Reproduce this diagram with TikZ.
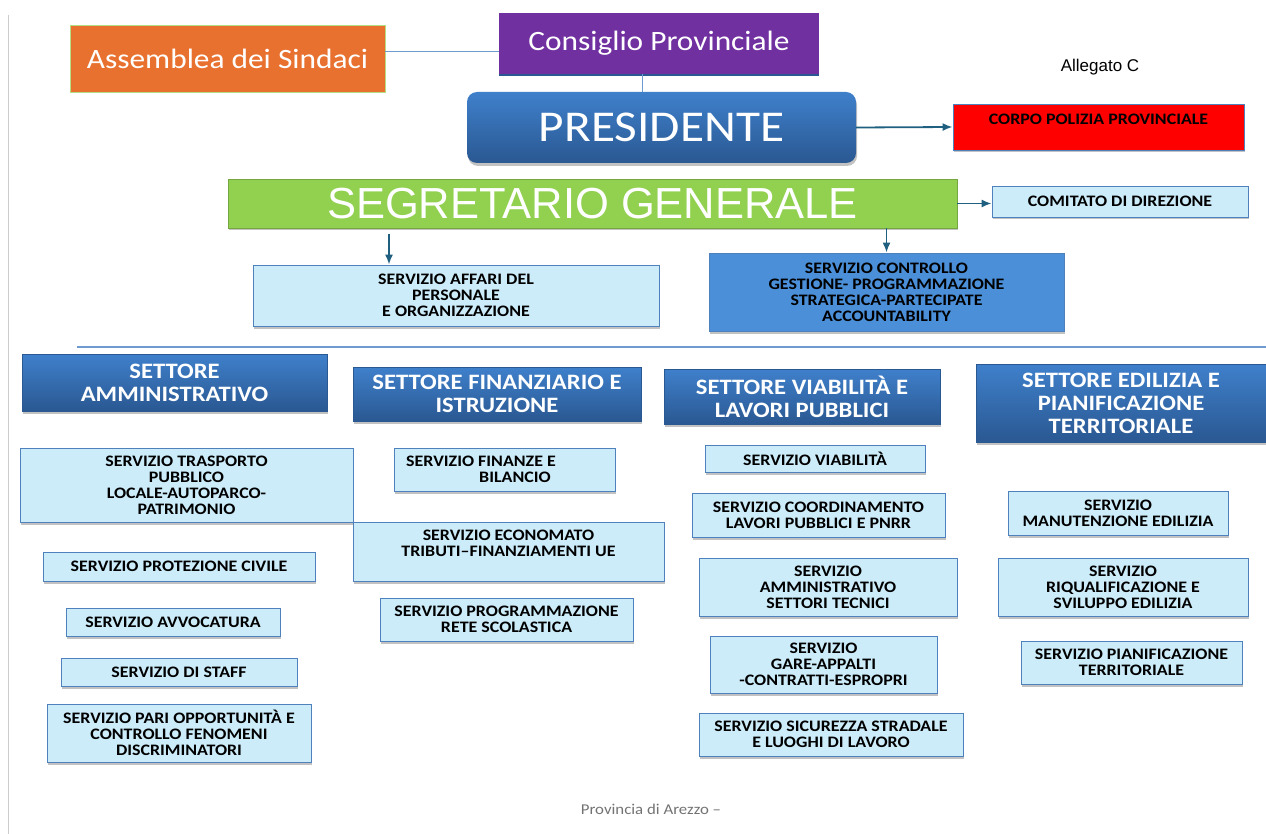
\documentclass[tikz,border=0pt]{standalone}
\usepackage{fontspec}
\setmainfont[FakeStretch=1.12]{Carlito}
\newfontfamily\arialfont{Liberation Sans}
\usepackage{tikz}
\usetikzlibrary{arrows.meta,shadows,positioning}
\definecolor{arancio}{HTML}{E8712F}
\definecolor{viola}{HTML}{7030A0}
\definecolor{verde}{HTML}{92D050}
\definecolor{servfill}{HTML}{CCECFA}
\definecolor{servline}{HTML}{4F81BD}
\definecolor{ctrlfill}{HTML}{4A8FD8}
\definecolor{hdrtop}{HTML}{3F80CB}
\definecolor{hdrbot}{HTML}{2A5892}
\definecolor{freccol}{HTML}{1F6080}
\definecolor{lineacol}{HTML}{6D9BCF}
\newcommand{\servfont}{\bfseries\fontsize{16}{16}\selectfont}
\newcommand{\settfont}{\bfseries\fontsize{22}{23}\selectfont}
\tikzstyle{serv}=[rectangle, draw=servline, fill=servfill, line width=0.8pt, inner sep=0pt, align=center, font=\servfont, drop shadow={shadow xshift=1pt, shadow yshift=-2.5pt, fill=black!40, opacity=.6}]
\tikzstyle{settore}=[rectangle, top color=hdrtop, bottom color=hdrbot, draw=hdrbot, inner sep=0pt, align=center, text=white, font=\settfont, drop shadow={shadow xshift=1pt, shadow yshift=-2.5pt, fill=black!40, opacity=.6}]
\tikzstyle{freccia}=[-{Latex[length=10pt,width=8pt]}, draw=freccol, line width=1.8pt]
\tikzstyle{linea}=[draw=lineacol, line width=1pt]

\begin{document}
\begin{tikzpicture}[x=1pt,y=-1pt]
	\useasboundingbox (0,0) rectangle (1266,834);
	\draw[black!20, line width=1pt] (8,15) -- (8,834);

	% vertice
	\node[rectangle, fill=arancio, draw=verde!70!white, line width=0.8pt, minimum width=315, minimum height=67, text=white, font=\fontsize{28}{30}\selectfont](assemblea) at (227.5,58.5) {Assemblea dei Sindaci};
	\node[rectangle, fill=viola, minimum width=320, minimum height=61, text=white, font=\fontsize{28}{30}\selectfont, drop shadow={shadow xshift=0pt, shadow yshift=-2.5pt, fill=hdrbot, opacity=1}](consiglio) at (659,43.5) {Consiglio Provinciale};
	\node[rectangle, rounded corners=10pt, top color=hdrtop, bottom color=hdrbot, minimum width=389, minimum height=71, text=white, font=\fontsize{44}{46}\selectfont, drop shadow={shadow xshift=1pt, shadow yshift=-3pt, fill=black!40, opacity=.6}](presidente) at (661.5,127.5) {PRESIDENTE};
	\node[rectangle, fill=red, draw=servline, line width=0.8pt, inner sep=0pt, minimum width=291, minimum height=46, align=center, font=\servfont, drop shadow={shadow xshift=1pt, shadow yshift=-2.5pt, fill=black!40, opacity=.6}](polizia) at (1098.5,127) {CORPO POLIZIA PROVINCIALE\\ \mbox{}};
	\node[font=\arialfont\fontsize{17}{19}\selectfont](allegato) at (1100,67) {Allegato C};

	\draw[linea] ([yshift=6.5]assemblea.east) -- ([yshift=6.5]assemblea.east -| consiglio.west);
	\draw[linea] ([xshift=-17]consiglio.south) -- ([xshift=-17]consiglio.south |- presidente.north);
	\draw[freccia] (presidente.east) -- (polizia.west);

	\node[rectangle, fill=verde, draw=verde!80!black, line width=0.6pt, minimum width=729, minimum height=49, text=white, font=\arialfont\fontsize{43.5}{46}\selectfont, drop shadow={shadow xshift=1pt, shadow yshift=-2.5pt, fill=black!40, opacity=.6}](segretario) at (592.5,203.5) {SEGRETARIO GENERALE};
	\node[serv, minimum width=256, minimum height=31](comitato) at (1120,201.5) {COMITATO DI DIREZIONE};
	\draw[freccia] (segretario.east) -- (segretario.east -| comitato.west);

	\node[serv, minimum width=406, minimum height=61](affari) at (456,295.5) {SERVIZIO AFFARI DEL\\PERSONALE\\E ORGANIZZAZIONE};
	\node[serv, fill=ctrlfill, minimum width=355, minimum height=78](controllo) at (886.5,292) {SERVIZIO CONTROLLO\\GESTIONE- PROGRAMMAZIONE\\STRATEGICA-PARTECIPATE\\ACCOUNTABILITY};
	\draw[freccia] ([xshift=-203.5,yshift=-6]segretario.south) -- ([xshift=-203.5]segretario.south |- affari.north);
	\draw[freccia] (segretario.south -| controllo.north) -- (controllo.north);

	\draw[draw=lineacol, line width=1.3pt] (77,347) -- (1266,347);

	% settori
	\node[settore, minimum width=305, minimum height=57](amm) at (174.5,382.5) {SETTORE\\AMMINISTRATIVO};
	\node[settore, minimum width=288, minimum height=54](fin) at (497,394) {SETTORE FINANZIARIO E\\ISTRUZIONE};
	\node[settore, minimum width=276, minimum height=55](via) at (802,396.5) {SETTORE VIABILITÀ E\\LAVORI PUBBLICI};
	\node[settore, minimum width=290, minimum height=78](edi) at (1121,403) {SETTORE EDILIZIA E\\PIANIFICAZIONE\\TERRITORIALE};

	% servizi amministrativo
	\node[serv, minimum width=333, minimum height=74](trasporto) at (186.5,485) {SERVIZIO TRASPORTO\\PUBBLICO\\LOCALE-AUTOPARCO-\\PATRIMONIO};
	\node[serv, minimum width=272, minimum height=29](protezione) at (179,566.5) {SERVIZIO PROTEZIONE CIVILE};
	\node[serv, minimum width=214, minimum height=28](avvocatura) at (173,622) {SERVIZIO AVVOCATURA};
	\node[serv, minimum width=236, minimum height=28](staff) at (179,672) {SERVIZIO DI STAFF};
	\node[serv, minimum width=264, minimum height=58](pari) at (179,733) {SERVIZIO PARI OPPORTUNITÀ E\\CONTROLLO FENOMENI\\DISCRIMINATORI};

	% servizi finanziario
	\node[serv, align=left, minimum width=221, minimum height=43](finanze) at (504.5,469.5) {SERVIZIO FINANZE E\hspace*{47pt}\\\hspace*{73pt}BILANCIO};
	\node[serv, minimum width=311, minimum height=59](economato) at (508.5,551.5) {SERVIZIO ECONOMATO\\TRIBUTI--FINANZIAMENTI UE\\ \mbox{}};
	\node[serv, minimum width=253, minimum height=43](scolastica) at (506.5,619.5) {SERVIZIO PROGRAMMAZIONE\\RETE SCOLASTICA};

	% servizi viabilita
	\node[serv, minimum width=220, minimum height=27](viabilita) at (815,458.5) {SERVIZIO VIABILITÀ};
	\node[serv, minimum width=253, minimum height=44](coordinamento) at (818.5,515) {SERVIZIO COORDINAMENTO\\LAVORI PUBBLICI E PNRR};
	\node[serv, minimum width=258, minimum height=58](tecnici) at (828,587) {SERVIZIO\\AMMINISTRATIVO\\SETTORI TECNICI};
	\node[serv, minimum width=227, minimum height=57](gare) at (823.5,664.5) {SERVIZIO\\GARE-APPALTI\\-CONTRATTI-ESPROPRI};
	\node[serv, minimum width=264, minimum height=43](sicurezza) at (831,734.5) {SERVIZIO SICUREZZA STRADALE\\E LUOGHI DI LAVORO};

	% servizi edilizia
	\node[serv, minimum width=220, minimum height=44](manutenzione) at (1118,513) {SERVIZIO\\MANUTENZIONE EDILIZIA};
	\node[serv, minimum width=250, minimum height=58](riqualificazione) at (1123,587) {SERVIZIO\\RIQUALIFICAZIONE E\\SVILUPPO EDILIZIA};
	\node[serv, minimum width=221, minimum height=43](pianificazione) at (1131.5,662.5) {SERVIZIO PIANIFICAZIONE\\TERRITORIALE};

	\node[text=black!55, font=\fontsize{15}{17}\selectfont](piede) at (651,809) {Provincia di Arezzo --};
\end{tikzpicture}
\end{document}
